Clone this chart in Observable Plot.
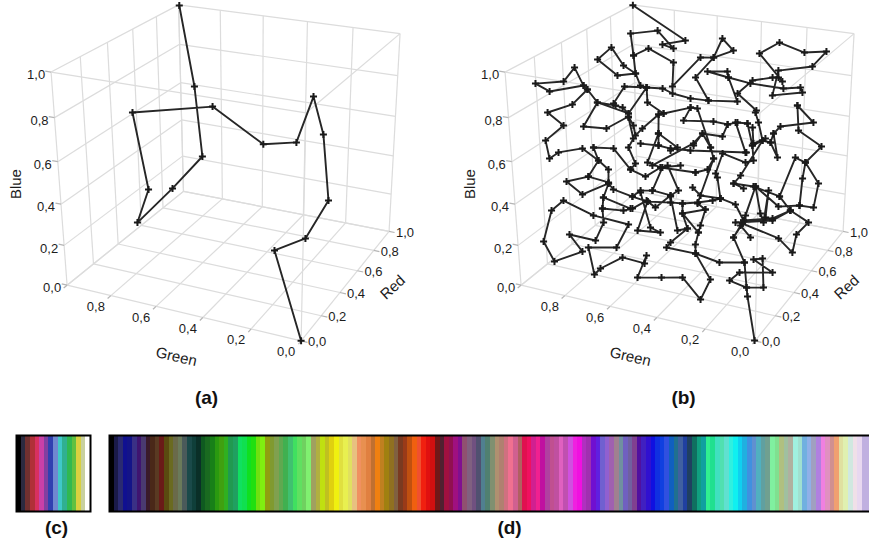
<!DOCTYPE html>
<html><head><meta charset="utf-8">
<script src="https://cdn.jsdelivr.net/npm/d3@7"></script>
<script src="https://cdn.jsdelivr.net/npm/@observablehq/plot@0.6"></script>
<style>
html,body{margin:0;padding:0;background:#fff;overflow:hidden}
#page{position:relative;width:869px;height:542px;overflow:hidden}
#page>*{position:absolute}
</style></head><body><div id="page"></div>
<script>
// Axis ticks
const tickValues=[0,.2,.4,.6,.8,1];
const greenLabels=[0,.2,.4,.6,.8];
const tickLabel=v=>v.toFixed(1).replace(".",",");
// Points as [green, red, blue]; null separates strands of the path
const pathA=[[0,0,0],[.184,.175,.282],[.172,.455,.199],[.177,.715,.262],[.270,.880,.507],[.287,.800,.722],[.238,.505,.627],[.245,.205,.741],[.550,.410,.774],[.804,.235,.768],[.690,.135,.474],[.757,.155,.291],[.747,.430,.332],[.827,.860,.292],[.828,.800,.680],[.996,.999,.998]];
const pathB=[
[.002,0,.001],[.151,.290,.002],[.168,.320,.026],[.236,.310,.049],[.209,.345,.077],[.088,.390,.083],[.171,.395,.125],[.139,.410,.130],[.105,.340,.031],[.168,.320,.026],[.201,.375,.113],[.293,.340,.109],[.387,.320,.141],[.307,.285,.050],[.306,.190,.003],[.409,.245,.056],[.481,.205,.059],[.566,.165,.060],
[.558,.230,.137],[.557,.210,.108],[.638,.180,.134],[.699,.110,.101],[.713,.085,.081],[.761,.130,.180],[.669,.190,.171],[.653,.265,.251],[.779,.210,.294],[.891,.175,.359],[.917,.125,.328],[.911,.045,.217],[.854,.025,.143],[.777,.110,.166],[.838,.120,.231],[.745,.160,.203],[.737,.215,.266],[.757,.245,.316],[.762,.265,.360],[.759,.305,.411],[.833,.225,.378],[.897,.215,.432],[.832,.275,.443],[.759,.305,.416],[.771,.330,.466],[.812,.325,.503],[.874,.310,.556],[.945,.245,.550],[.969,.215,.529],[.995,.235,.601],[.949,.300,.656],[.997,.265,.722],[.934,.350,.739],[.895,.405,.796],[.909,.400,.814],[.946,.400,.892],[.975,.360,.836],[.999,.195,.881],[.998,.290,.811],[.909,.400,.814],null,
[.895,.405,.796],[.855,.410,.740],[.793,.445,.723],[.767,.455,.714],[.744,.460,.688],[.855,.410,.740],[.885,.345,.645],[.807,.390,.632],[.742,.455,.676],[.718,.450,.639],[.705,.440,.597],[.686,.465,.625],[.638,.515,.681],[.621,.525,.685],[.528,.580,.709],[.505,.595,.703],[.429,.555,.545],[.409,.540,.501],[.422,.510,.458],[.463,.485,.446],null,
[.998,.999,.999],[.582,.650,.992],[.661,.605,.976],[.620,.620,.958],[.732,.705,.999],[.813,.625,.998],[.757,.540,.931],[.708,.575,.960],[.616,.610,.897],[.607,.580,.796],[.521,.660,.919],[.473,.680,.919],[.403,.715,.951],[.453,.720,.998],[.473,.680,.919],[.529,.630,.834],[.468,.620,.738],[.362,.665,.735],[.408,.680,.836],[.415,.685,.861],[.488,.655,.860],[.408,.680,.836],[.324,.705,.813],[.197,.740,.798],[.133,.760,.806],[.122,.755,.786],[.235,.720,.766],[.226,.755,.872],[.099,.795,.898],[.054,.825,.964],[.136,.800,.955],[.236,.785,.991],[.306,.750,.941],[.204,.745,.828],[.221,.745,.844],[.244,.740,.842],[.317,.710,.826],[.366,.675,.769],[.286,.680,.700],[.288,.675,.692],[.270,.665,.651],[.241,.640,.580],[.296,.550,.437],[.315,.525,.405],null,
[.757,.540,.931],[.742,.525,.854],[.802,.485,.849],[.875,.460,.921],[.836,.505,.968],[.787,.510,.890],[.742,.525,.854],[.719,.520,.803],[.697,.530,.794],[.641,.560,.788],[.602,.570,.767],[.535,.595,.746],[.468,.620,.738],null,
[.799,.440,.733],[.772,.485,.802],[.697,.530,.794],[.744,.460,.688],null,
[.697,.530,.794],[.684,.510,.732],[.621,.525,.685],null,
[.134,.735,.730],[.061,.725,.666],[.184,.685,.640],[.205,.665,.610],[.211,.650,.572],[.241,.640,.580],[.276,.620,.557],[.309,.645,.647],null,
[.134,.735,.730],[.113,.700,.628],[.013,.695,.572],[.063,.655,.502],[.104,.650,.520],[.134,.565,.362],[.240,.550,.395],[.315,.525,.405],[.274,.530,.387],null,
[.205,.665,.610],[.172,.630,.515],[.211,.650,.572],null,
[.063,.655,.502],[.062,.625,.438],[.051,.570,.333],[.001,.595,.322],[0,.640,.420],[.063,.655,.502],null,
[.051,.570,.333],[.128,.540,.325],[.231,.550,.397],[.245,.465,.266],null,
[.134,.565,.362],[.081,.550,.311],[.002,.545,.273],[.036,.505,.225],[.034,.460,.159],[.099,.475,.206],[.247,.460,.253],null,
[.081,.550,.311],[.138,.505,.271],[.273,.450,.257],null,
[.081,.550,.311],[.140,.510,.278],[.245,.465,.266],null,
[.231,.550,.397],[.243,.480,.284],[.247,.460,.253],[.266,.415,.202],[.201,.375,.113],null,
[.266,.415,.202],[.251,.450,.247],[.204,.440,.204],null,
[.231,.550,.397],[.190,.505,.294],[.170,.490,.261],[.179,.560,.384],[.168,.505,.279],null,
[.838,.335,.557],[.770,.375,.549],[.696,.375,.461],[.638,.390,.432],[.593,.435,.466],[.524,.475,.472],null,
[.838,.335,.557],[.812,.325,.503],[.832,.275,.443],null,
[.759,.305,.411],[.738,.305,.386],[.667,.330,.355],[.643,.355,.378],[.603,.380,.376],[.533,.400,.357],[.510,.425,.375],[.569,.450,.474],null,
[.667,.330,.355],[.608,.345,.336],[.576,.350,.312],[.533,.400,.357],null,
[.603,.380,.376],[.587,.440,.465],null,
[.742,.455,.671],[.709,.430,.586],[.719,.405,.551],[.684,.395,.484],[.696,.375,.461],null,
[.638,.515,.681],[.625,.485,.604],[.618,.470,.553],[.680,.435,.565],null,
[.618,.470,.553],[.572,.485,.541],[.499,.515,.533],[.293,.600,.528],null,
[.625,.485,.604],[.643,.420,.487],[.593,.435,.466],[.463,.485,.446],null,
[.624,.425,.474],[.495,.535,.560],[.469,.565,.601],[.393,.590,.591],[.382,.615,.641],null,
[.625,.485,.604],[.549,.500,.544],[.570,.480,.534],null,
[.528,.580,.709],[.545,.550,.655],[.437,.600,.651],[.382,.615,.641],[.348,.635,.649],[.309,.645,.647],null,
[.354,.630,.650],[.297,.600,.528],null,
[.276,.620,.557],[.260,.595,.498],[.288,.580,.489],[.381,.565,.521],[.389,.515,.443],[.381,.515,.425],[.352,.480,.344],null,
[.492,.530,.553],[.469,.565,.601],[.429,.555,.545],null,
[.409,.540,.501],[.429,.430,.326],[.397,.435,.301],[.398,.390,.243],null,
[.352,.480,.344],[.425,.450,.357],[.462,.455,.386],null,
[.352,.480,.344],[.291,.490,.323],[.245,.465,.266],null,
[.608,.345,.336],[.526,.385,.331],[.483,.405,.326],[.431,.435,.328],[.377,.460,.338],[.352,.480,.344],null,
[.483,.405,.326],[.474,.385,.288],[.400,.375,.215],[.397,.435,.301],[.474,.385,.288],[.443,.365,.230],[.489,.305,.180],[.497,.285,.163],[.387,.320,.141],null,
[.533,.400,.352],[.475,.340,.225],[.443,.365,.230],null,
[.608,.345,.336],[.616,.270,.227],[.533,.305,.219],[.574,.300,.237],[.641,.350,.371],null,
[.762,.265,.360],[.661,.300,.311],null,
[.757,.245,.316],[.682,.280,.306],[.655,.305,.310],[.612,.345,.340],null,
[.400,.375,.215],[.397,.340,.174],[.387,.320,.141],null,
[.289,.650,.630],[.274,.625,.565],[.233,.650,.587]];
// Colour strips
const stripC=["000000","2a2a40","703030","b03038","d83060","c840a8","8040a0","3040b0","7088d0","40c8c8","30b090","30b850","60c040","d8d040","c8d0a0","ffffff"];
const stripD=["000000","1a1a48","2a2a70","101090","141488","3a3085","3f1470","4a3a70","3a1a2a","4a2818","5a3a22","6a1a18","5a4a10","6a6a20","6a6a4a","6a7a5a","4a5a5a","1a4a4a","0f3f3a","0a2f28","0f5a20","1a6a20","188018","2a9a10","40a010","30b020","209a50","20a060","10e060","10e050","10e020","20e010","70e010","80f010","90a010","809a30","80a050","60a850","40b050",
"40c070","40e060","60e060","70d060","80f070","a0a060","b0b040","c0e010","c0c020","e0d010","f0f010","e0e040","e8f050","e0e060","e8c080","f09060","e89050","e08040","c07030","f08010","c08020","a08010","907020","806040","7a3a20","9a3a18","c05010","f06010","f05030","f02010","e01010","d01010","701818","502030","a01040","901050","9f1080","801090","905070","806080","705080","505070","508090","508070","809070","b09070","b08070","d07080","f07090","d06090","b06060","e01050","f01060","d02090","f02090","c010a0","b040a0","c05090","c050a0","e060c0","c050b0","d050e0","f020e0",
"f010e0","b030c0","a030b0","7010d0","6020e0","7060d0","9060d0","a060b0","a08090","7090a0","7060c0","7060a0","804090","5010a0","4020c0","3010d0","1010e0","1030e0","1040e0","3050e0","1060c0","207090","4060a0","2040a0","204060","107060","10a080","10a0a0","30f090","20e090","40e0c0","50e0b0","60e0d0","30f0e0","10f0f0","10d0f0","20b0e0","4090e0","6090d0","50b0c0","60a0a0","70a090","80f0a0","80e090","b0c080","a0c0a0","b0b0a0","a0f0e0","a0e0d0","70b0e0","90b0e8","a0a0c0","b080e0","f080e0","e090c0","d09090","f0a070","e0e0a0","e0f0b0","d0e8e0","f0e0e8","e8d8f0","c0b0e0","c0b0e0"];

// Camera of the 3D view: homogeneous projection of (green, red, blue)
const cam=[-228.2933,160.5644,-21.7958,300.5904,-31.1884,-66.2519,-237.6521,340.3017,0.085732,0.186829,-0.087215];
function project([g,r,b]){const w=cam[8]*g+cam[9]*r+cam[10]*b+1;
 return [(cam[0]*g+cam[1]*r+cam[2]*b+cam[3])/w,(cam[4]*g+cam[5]*r+cam[6]*b+cam[7])/w];}

const FONT="Liberation Sans";
function panel(offset,path){
  const X=p=>project(p)[0]+offset, Y=p=>project(p)[1];
  const edges=[];
  for(const k of tickValues){
    edges.push([[k,0,0],[k,1,0]],[[0,k,0],[1,k,0]]);      // floor
    edges.push([[1,0,k],[1,1,k]],[[1,k,0],[1,k,1]]);      // wall green = 1
    edges.push([[0,1,k],[1,1,k]],[[k,1,0],[k,1,1]]);      // wall red = 1
  }
  edges.push([[0,0,0],[0,0,1]],[[0,0,1],[1,0,1]],[[0,0,1],[0,1,1]]);
  const ticks=[];
  for(const k of tickValues){
    ticks.push([[k,0,0],[k,-.025,0]],[[0,k,0],[-.025,k,0]],[[1,0,k],[1.025,0,k]]);
  }
  const pts=path.map(p=>p??[NaN,NaN,NaN]);
  const link=(data,o)=>Plot.link(data,{x1:d=>X(d[0]),y1:d=>Y(d[0]),x2:d=>X(d[1]),y2:d=>Y(d[1]),...o});
  const tickText=(vals,pos,dx,dy)=>Plot.text(vals,{x:k=>X(pos(k)),y:k=>Y(pos(k)),text:tickLabel,dx,dy,fontSize:13,fontFamily:FONT,fill:"#1c1c1c",textAnchor:"middle"});
  const title=(s,pos,dx,dy,rotate)=>Plot.text([s],{x:()=>X(pos),y:()=>Y(pos),text:d=>d,dx,dy,rotate,fontSize:15,fontFamily:FONT,fill:"#1c1c1c",textAnchor:"middle"});
  return [
    link(edges,{stroke:"#dcdcdc",strokeWidth:1.2}),
    link(ticks,{stroke:"#b5b5b5",strokeWidth:1.2}),
    Plot.line(pts,{x:X,y:Y,stroke:"#262626",strokeWidth:1.9}),
    Plot.dot(path.filter(Boolean),{x:X,y:Y,symbol:"plus",r:2.4,stroke:"#1a1a1a",strokeWidth:2}),
    tickText(tickValues,k=>[1,0,k],-15,3),
    tickText(greenLabels,k=>[k,0,0],-15,11),
    tickText(tickValues,k=>[0,k,0],16,1),
    title("Blue",[1,0,.5],-43,1,-90),
    title("Green",[.5,0,0],-3,45,13),
    title("Red",[0,.5,0],44,6,-43)
  ];
}
const letter=(s,x,y)=>Plot.text([s],{x:()=>x,y:()=>y,text:d=>d,fontSize:19,fontWeight:"bold",fontFamily:FONT,fill:"#111",textAnchor:"middle"});
const main=Plot.plot({width:869,height:542,margin:0,
  x:{axis:null,domain:[0,869],range:[0,869]},
  y:{axis:null,domain:[0,542],range:[0,542]},
  style:{background:"transparent"},
  marks:[...panel(0,pathA),...panel(454,pathB),letter("(a)",206,397),letter("(b)",683,397),letter("(c)",56,527),letter("(d)",509,527)]});
main.style.left="0";main.style.top="0";
const page=document.getElementById("page");page.appendChild(main);

function strip(colors,left,width){
  const s=Plot.plot({width,height:78,margin:1,
    x:{type:"band",domain:d3.range(colors.length),padding:0,round:false,axis:null},
    color:{type:"identity"},
    marks:[Plot.cell(colors,{x:(d,i)=>i,fill:d=>"#"+d,shapeRendering:"crispEdges"}),Plot.frame({stroke:"#000",strokeWidth:2})]});
  s.style.left=left+"px";s.style.top="434px";s.style.overflow="visible";
  page.appendChild(s);
}
strip(stripC,15,76);
strip(stripD,108,764);
</script></body></html>
